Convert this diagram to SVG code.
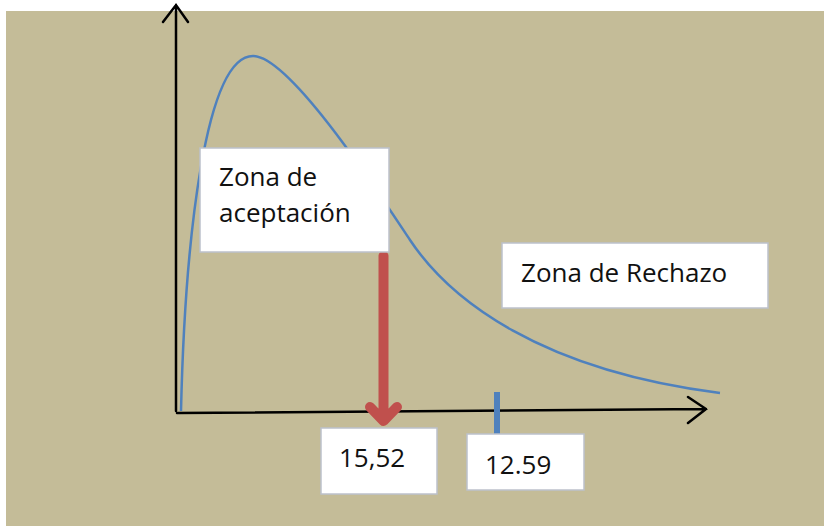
<svg xmlns="http://www.w3.org/2000/svg" width="824" height="526" viewBox="0 0 824 526">
  <style>
    .box { fill: #FFFFFF; stroke: #BCC1CB; stroke-width: 1.5; }
    .lbl { font-family: "Open Sans", "Noto Sans", "Liberation Sans", sans-serif; font-size: 26px; fill: #111111; }
    .axis { fill: none; stroke: #000000; stroke-width: 2.5; stroke-linecap: round; stroke-linejoin: miter; }
    .curve { fill: none; stroke: #4F81BD; stroke-width: 2.5; }
    .red { fill: none; stroke: #C0504D; stroke-width: 10; stroke-linecap: round; stroke-linejoin: round; }
  </style>
  <rect x="0" y="0" width="824" height="526" fill="#FFFFFF"/>
  <rect x="6" y="11" width="818" height="515" fill="#C4BC98"/>

  <g id="curve">
    <path class="curve" d="M181,411 C185,240 205,56 253,56 C290,56 380,195 410,240 C450,300 540,370 720,393"/>
  </g>

  <g id="connectors">
    <path class="axis" d="M176,411 L176,5 M163,22 L176,5 L188,22"/>
    <path class="axis" d="M177,413 L706,409 M688,397 L706,409 L688,423"/>
    <path class="red" d="M383.5,256 L383.5,420 M370,407 L383.5,421 L397,407"/>
    <rect x="494" y="392" width="6" height="42" fill="#4F81BD"/>
  </g>

  <g id="zona-aceptacion">
    <rect class="box" x="200" y="148" width="189" height="104"/>
    <text class="lbl" x="219" y="186">Zona de</text>
    <text class="lbl" x="219" y="222">aceptación</text>
  </g>

  <g id="zona-rechazo">
    <rect class="box" x="502" y="243" width="266" height="65"/>
    <text class="lbl" x="521" y="282">Zona de Rechazo</text>
  </g>

  <g id="valor-1552">
    <rect class="box" x="321" y="428" width="116" height="66"/>
    <text class="lbl" x="339" y="467">15,52</text>
  </g>

  <g id="valor-1259">
    <rect class="box" x="467" y="434" width="117" height="56"/>
    <text class="lbl" x="485" y="474">12.59</text>
  </g>
</svg>
